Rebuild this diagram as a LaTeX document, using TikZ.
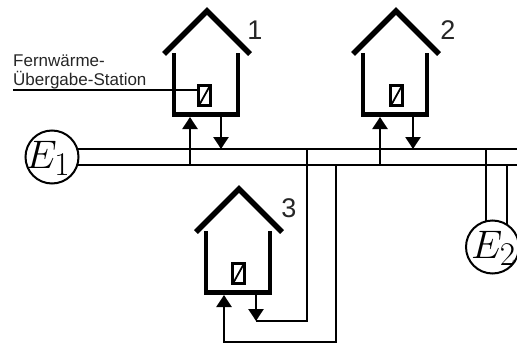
\documentclass[tikz,border=0pt]{standalone}
\usepackage{fontspec}
\usepackage{graphicx}
\setmainfont{Liberation Sans}
\usetikzlibrary{arrows.meta}
\tikzset{
  pipe/.style={line width=2.4pt,line cap=butt},
  wall/.style={line width=4.8pt,line cap=butt,miter limit=10},
  roof/.style={line width=5.4pt,line cap=butt,line join=miter},
  flow/.style={line width=2.4pt,-{Triangle[length=12pt,width=15pt]}},
  station/.style={draw,line width=2.2pt,fill=white,minimum width=12pt,minimum height=20pt,inner sep=0pt,
    path picture={\draw[line width=1.8pt] (path picture bounding box.south west)++(1pt,1pt) -- ([xshift=-1pt,yshift=-1pt]path picture bounding box.north east);}},
  source/.style={circle,draw,line width=2pt,fill=white,minimum size=53pt,inner sep=0pt,font=\fontsize{24.88}{26}\selectfont},
  numlabel/.style={font=\fontsize{27}{27}\selectfont,text=black!85,inner sep=0pt},
  caption/.style={font=\fontsize{17}{20}\selectfont,text=black!85,inner sep=0pt,anchor=base west}
}
\newcommand{\drawhouse}[6]{%
  % name, apex x, apex y, station x, label text, label x
  \draw[roof] (#2-43,#3+44) -- (#2,#3+1) -- (#2+43,#3+44);
  \draw[wall] (#2-33,#3+43) -- (#2-33,#3+104.5) -- (#2+31,#3+104.5) -- (#2+31,#3+43);
  \node[station] (#1st) at (#4,#3+85.5) {};
  \node[numlabel] (#1lab) at (#6,#3+20) {#5};
}
\newcommand{\srclabel}[2]{\smash{\makebox[0pt][c]{\hspace{#2}\raisebox{-11pt}{\scalebox{1.6}{$#1$}}}}}
\begin{document}
\begin{tikzpicture}[x=1pt,y=-1pt]
\useasboundingbox (0,0) rectangle (517,343);
\begin{scope}
\clip (0,0) rectangle (517,343);
% network points
\coordinate (e1c) at (52,157);
\coordinate (e2c) at (492.5,247);
\coordinate (sStart) at (78,149);
\coordinate (rStart) at (78,165);
\coordinate (sEnd) at (517,149);
\coordinate (rEnd) at (517,165);
\coordinate (s1) at (221,149);
\coordinate (r1) at (190,165);
\coordinate (s2) at (413,149);
\coordinate (r2) at (380,165);
\coordinate (s3) at (307,149);
\coordinate (r3) at (336,165);
\coordinate (s4) at (486,149);
\coordinate (r4) at (507,165);
\coordinate (s4e) at (486,224);
\coordinate (r4e) at (507,228);
\coordinate (h1up) at (190,117);
\coordinate (h1dn) at (221,117);
\coordinate (h2up) at (380,117);
\coordinate (h2dn) at (413,117);
\coordinate (h3up) at (224,295);
\coordinate (h3dn) at (256,295);
\coordinate (c3s) at (307,321);
\coordinate (c3st) at (256,321);
\coordinate (c3r) at (336,342);
\coordinate (c3rt) at (224,342);
% mains
\draw[pipe] (sStart) -- (sEnd);
\draw[pipe] (rStart) -- (rEnd);
\draw[pipe] (s4) -- (s4e);
\draw[pipe] (r4) -- (r4e);
% sources
\node[source] (e1) at (e1c) {\srclabel{E_1}{-8pt}};
\node[source] (e2) at (e2c) {\srclabel{E_2}{2pt}};
% houses
\drawhouse{a}{207}{10}{204.5}{1}{255}
\drawhouse{b}{396}{10}{396.5}{2}{448}
\drawhouse{c}{239}{188}{238.5}{3}{289}
% connections
\draw[flow] (r1) -- (h1up);
\draw[flow] (h1dn) -- (s1);
\draw[flow] (r2) -- (h2up);
\draw[flow] (h2dn) -- (s2);
\draw[pipe] (s3) -- (c3s) -- (c3st);
\draw[flow] (h3dn) -- (c3st);
\draw[flow] (r3) -- (c3r) -- (c3rt) -- (h3up);
% caption
\node[caption] (capa) at (13,66) {Fernwärme-};
\node[caption] (capb) at (13,85) {Übergabe-Station};
\coordinate (capl) at (13,90);
\draw[line width=1.3pt] (capl) -- (ast.west |- capl);
\end{scope}
\end{tikzpicture}
\end{document}
